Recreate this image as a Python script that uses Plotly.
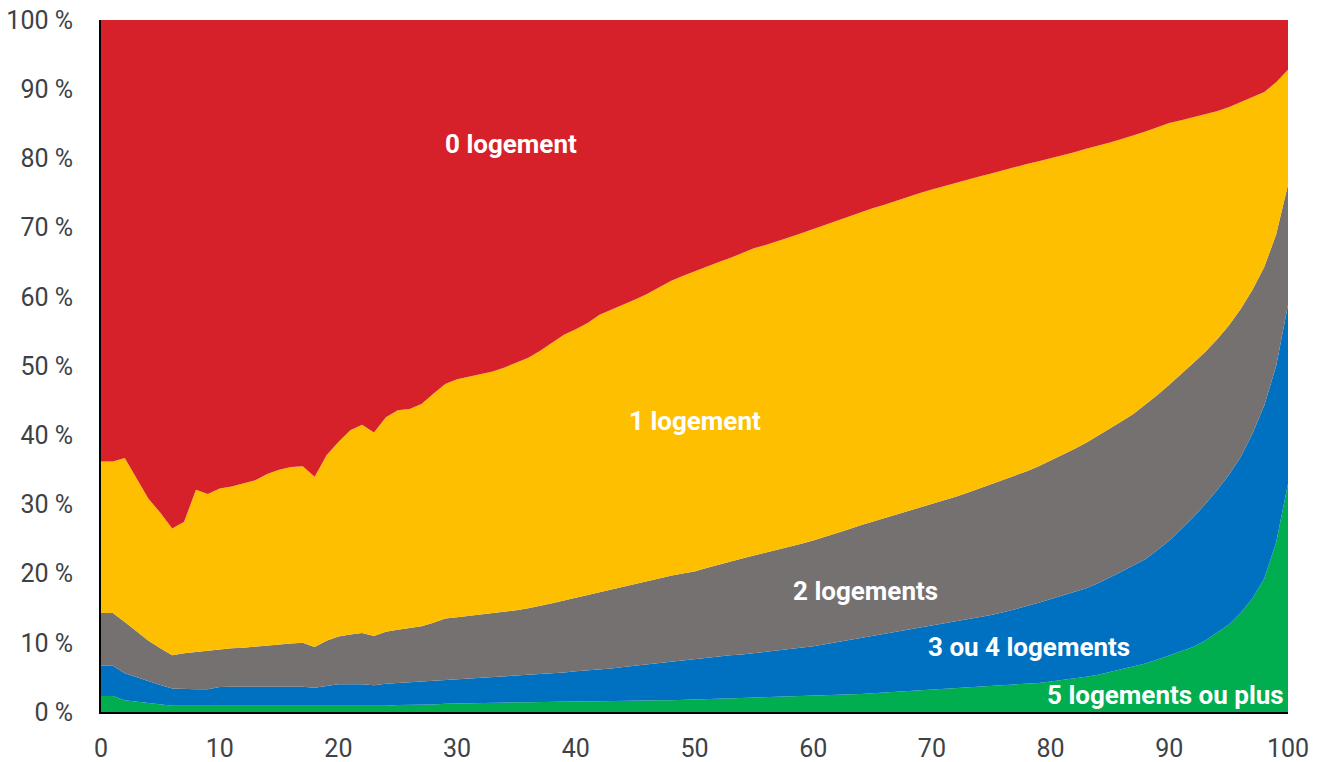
import plotly.graph_objects as go

# Percentile (x axis)
x = list(range(0, 101))

# Cumulative shares (%): top edge of each stacked band
top_5plus = [2.3, 2.3, 1.7, 1.5, 1.3, 1.2, 0.9, 0.9, 0.9, 0.9,
             0.9, 0.9, 0.9, 0.9, 0.9, 0.9, 0.9, 0.9, 0.9, 0.9,
             0.9, 0.9, 0.9, 0.85, 0.9, 1.0, 1.0, 1.05, 1.1, 1.2,
             1.25, 1.3, 1.3, 1.35, 1.35, 1.4, 1.4, 1.45, 1.45, 1.5,
             1.5, 1.55, 1.55, 1.6, 1.6, 1.65, 1.65, 1.7, 1.7, 1.75,
             1.8, 1.85, 1.9, 1.95, 2.0, 2.05, 2.1, 2.15, 2.2, 2.3,
             2.35, 2.4, 2.45, 2.5, 2.6, 2.7, 2.8, 2.9, 3.0, 3.1,
             3.2, 3.3, 3.4, 3.5, 3.6, 3.7, 3.85, 4.0, 4.1, 4.2,
             4.4, 4.6, 4.8, 5.1, 5.4, 5.8, 6.2, 6.6, 7.0, 7.6,
             8.2, 8.8, 9.4, 10.3, 11.4, 12.6, 14.3, 16.4, 19.3, 24.5,
             33.0]

top_3ou4 = [6.7, 6.7, 5.6, 5.0, 4.4, 3.9, 3.4, 3.3, 3.3, 3.3,
            3.6, 3.65, 3.65, 3.65, 3.65, 3.6, 3.65, 3.65, 3.5, 3.8,
            4.0, 4.0, 4.0, 3.85, 4.1, 4.2, 4.3, 4.4, 4.5, 4.7,
            4.8, 4.9, 5.0, 5.0, 5.1, 5.2, 5.3, 5.4, 5.6, 5.7,
            5.9, 6.0, 6.1, 6.3, 6.5, 6.7, 6.8, 7.0, 7.2, 7.4,
            7.6, 7.8, 8.0, 8.2, 8.3, 8.5, 8.6, 8.8, 9.0, 9.3,
            9.5, 9.8, 10.1, 10.4, 10.6, 10.9, 11.2, 11.5, 11.8, 12.1,
            12.4, 12.7, 13.0, 13.3, 13.7, 14.0, 14.4, 14.8, 15.3, 15.8,
            16.3, 16.8, 17.3, 17.9, 18.6, 19.4, 20.3, 21.2, 22.1, 23.4,
            24.8, 26.4, 28.1, 30.0, 32.0, 34.2, 36.8, 40.2, 44.3, 50.0,
            58.8]

top_2 = [14.3, 14.3, 13.0, 11.6, 10.3, 9.2, 8.2, 8.5, 8.7, 8.8,
         9.1, 9.2, 9.3, 9.45, 9.7, 9.75, 9.9, 10.0, 9.4, 10.3,
         10.9, 11.2, 11.4, 11.0, 11.6, 11.9, 12.1, 12.4, 12.9, 13.5,
         13.7, 13.9, 14.1, 14.2, 14.4, 14.7, 15.0, 15.3, 15.7, 16.1,
         16.5, 16.9, 17.3, 17.7, 18.1, 18.6, 19.0, 19.4, 19.7, 20.0,
         20.3, 20.8, 21.3, 21.8, 22.2, 22.6, 23.0, 23.4, 23.9, 24.3,
         24.8, 25.3, 25.9, 26.4, 27.0, 27.5, 28.0, 28.5, 29.0, 29.6,
         30.1, 30.6, 31.1, 31.7, 32.3, 32.9, 33.5, 34.1, 34.8, 35.5,
         36.3, 37.1, 38.0, 38.9, 39.9, 40.9, 42.0, 43.1, 44.4, 45.8,
         47.3, 48.8, 50.4, 52.0, 53.8, 55.8, 58.2, 61.0, 64.3, 69.0,
         76.2]

top_1 = [36.2, 36.2, 36.7, 33.8, 30.8, 28.8, 26.5, 27.5, 32.1, 31.5,
         32.3, 32.6, 33.1, 33.5, 34.4, 35.0, 35.4, 35.5, 34.0, 37.1,
         39.0, 40.7, 41.5, 40.4, 42.6, 43.6, 43.8, 44.5, 46.0, 47.4,
         48.1, 48.5, 48.9, 49.2, 49.8, 50.5, 51.2, 52.2, 53.3, 54.5,
         55.3, 56.2, 57.4, 58.1, 58.9, 59.6, 60.4, 61.4, 62.3, 63.0,
         63.7, 64.3, 65.0, 65.6, 66.3, 67.0, 67.5, 68.0, 68.6, 69.2,
         69.8, 70.4, 71.1, 71.6, 72.2, 72.8, 73.3, 73.9, 74.4, 75.0,
         75.5, 76.0, 76.5, 77.0, 77.4, 77.8, 78.3, 78.7, 79.2, 79.6,
         80.0, 80.5, 80.9, 81.4, 81.8, 82.3, 82.8, 83.3, 83.9, 84.5,
         85.1, 85.5, 85.9, 86.3, 86.8, 87.4, 88.1, 88.8, 89.6, 91.0,
         92.8]

top_0 = [100.0] * 101  # total

series_names = ["5 logements ou plus", "3 ou 4 logements", "2 logements", "1 logement", "0 logement"]
series_tops = [top_5plus, top_3ou4, top_2, top_1, top_0]
colors = ["#00AD4F", "#0070C0", "#767171", "#FDBF00", "#D7212A"]

x_ticks = list(range(0, 101, 10))
y_ticks = list(range(0, 101, 10))
y_tick_text = [f"{v} %" for v in y_ticks]

fig = go.Figure()
for i, (name, tops, col) in enumerate(zip(series_names, series_tops, colors)):
    fig.add_trace(go.Scatter(
        x=x, y=tops, name=name, mode="lines",
        line=dict(width=0, color=col),
        fill="tozeroy" if i == 0 else "tonexty",
        fillcolor=col,
        showlegend=False,
    ))

labels = [
    ("0 logement", 34.5, 82.1, "center"),
    ("1 logement", 50.0, 42.1, "center"),
    ("2 logements", 64.4, 17.5, "center"),
    ("3 ou 4 logements", 78.2, 9.4, "center"),
    ("5 logements ou plus", 99.8, 2.5, "right"),
]
for txt, lx, ly, anchor in labels:
    fig.add_annotation(x=lx, y=ly, text=f"<b>{txt}</b>", showarrow=False,
                       xanchor=anchor, yanchor="middle",
                       font=dict(family="Roboto, Inter, sans-serif", size=26, color="white"))

fig.update_layout(
    width=1320, height=762,
    margin=dict(l=101, r=32, t=20, b=50, autoexpand=False),
    paper_bgcolor="white", plot_bgcolor="white",
    font=dict(family="Roboto, Inter, sans-serif", size=24, color="#3d4246"),
)
fig.update_xaxes(range=[0, 100], tickvals=x_ticks, showgrid=False, zeroline=False,
                 showline=True, linecolor="black", linewidth=2, ticks="", ticklabelstandoff=13,
                 automargin=False, tickfont=dict(size=25, color="#3d4246"))
fig.update_yaxes(range=[0, 100], tickvals=y_ticks, ticktext=y_tick_text, showgrid=False,
                 zeroline=False, showline=True, linecolor="black", linewidth=2, ticks="",
                 automargin=False, ticklabelstandoff=21, tickfont=dict(size=25, color="#3d4246"))

# remove the page's default body margin so the figure sits at the window's corner
fig.write_html("out.html", config={"displayModeBar": False},
               post_script="document.body.style.margin='0';document.body.style.overflow='hidden';")
